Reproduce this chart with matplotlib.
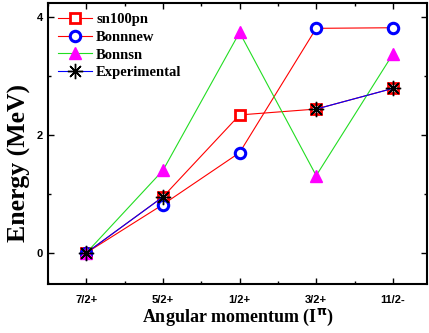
import numpy as np
import matplotlib
matplotlib.use("Agg")
import matplotlib.pyplot as plt
from matplotlib.ticker import MultipleLocator

# spin/parity states on the x axis
states = ["7/2+", "5/2+", "1/2+", "3/2+", "11/2-"]
sn100pn = [0.0, 0.95, 2.34, 2.44, 2.79]
bonnnew = [0.0, 0.82, 1.70, 3.81, 3.82]
bonnsn = [0.0, 1.40, 3.74, 1.31, 3.37]
experimental = [0.0, 0.95, np.nan, 2.44, 2.79]

x = np.arange(1, len(states) + 1)

fig = plt.figure(figsize=(4.29, 3.33), dpi=100)
ax = fig.add_axes([0.112, 0.147, 0.884, 0.844])

ax.plot(x, sn100pn, color="red", lw=0.8, marker="s", ms=6.5,
        mfc="white", mec="red", mew=2, label="sn100pn")
ax.plot(x, bonnnew, color="red", lw=0.8, marker="o", ms=7.5,
        mfc="white", mec="blue", mew=2.2, label="Bonnnew")
ax.plot(x, bonnsn, color="#22dd22", lw=0.8, marker="^", ms=8.5,
        mfc="magenta", mec="magenta", label="Bonnsn")
ax.plot(x, experimental, color="blue", lw=0.8, marker=(8, 2, 0), ms=11,
        mec="black", mew=1.0, label="Experimental")

ax.set_xlim(0.5, 5.45)
ax.set_ylim(-0.53, 4.24)
ax.set_xticks(x)
ax.set_xticklabels(states)
ax.xaxis.set_minor_locator(MultipleLocator(0.5))
ax.set_yticks([0, 2, 4])
ax.yaxis.set_minor_locator(MultipleLocator(1))
ax.tick_params(which="both", direction="in", top=True, right=True,
               width=1, labelsize=8)
ax.tick_params(which="major", length=4)
ax.tick_params(which="minor", length=2)
for lab in ax.get_xticklabels() + ax.get_yticklabels():
    lab.set_fontweight("bold")
    lab.set_family("Liberation Sans")
ax.tick_params(axis="x", pad=8)
for sp in ax.spines.values():
    sp.set_linewidth(1.5)

ax.set_xlabel(r"Angular momentum (I$^{\mathbf{\pi}}$)", family="Liberation Serif",
              fontweight="bold", fontsize=13, labelpad=1)
ax.set_ylabel("Energy (MeV)", family="Liberation Serif",
              fontweight="bold", fontsize=18.5, va="center")
ax.yaxis.set_label_coords(-0.076, 0.43)

leg = ax.legend(loc="upper left", frameon=False, handlelength=2.3,
                handletextpad=0.3, labelspacing=0.3, borderaxespad=0.3,
                borderpad=0.4,
                prop={"family": "Liberation Serif", "weight": "bold", "size": 10.5})

fig.savefig("out.png", dpi=100)
